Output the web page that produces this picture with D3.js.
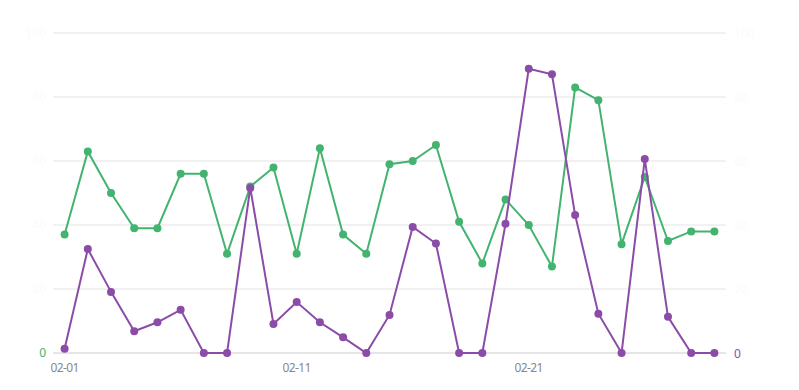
<!DOCTYPE html>
<html><head><meta charset="utf-8">
<script src="https://cdn.jsdelivr.net/npm/d3@7"></script>
<style>body{margin:0;background:#fff}svg{display:block}text{font-family:"Noto Sans",sans-serif}</style>
</head><body><svg id="c" width="799" height="390"></svg>
<script>
const categories = ["02-01","02-02","02-03","02-04","02-05","02-06","02-07","02-08","02-09","02-10","02-11","02-12","02-13","02-14","02-15","02-16","02-17","02-18","02-19","02-20","02-21","02-22","02-23","02-24","02-25","02-26","02-27","02-28","02-29"];
const greenValues = [37,63,50,39,39,56,56,31,52,58,31,64,37,31,59,60,65,41,28,48,40,27,83,79,34,55,35,38,38];
const purpleValues = [1.3,32.5,19.1,6.8,9.6,13.5,0,0,51.6,9.1,15.9,9.6,4.9,0,11.9,39.4,34.2,0,0,40.4,88.8,87.1,43.1,12.3,0,60.6,11.3,0,0];
const leftTicks = [0,20,40,60,80,100];
const rightTicks = [0,20,40,60,80,100];
const xTickLabels = ["02-01","02-11","02-21"];

const svg = d3.select("#c");
const L = 53, R = 726, T = 33, B = 353;
const green = "#43b370", purple = "#8b4ca8";
const x = d3.scaleBand().domain(categories).range([L, R]);
const cx = d => x(d) + x.bandwidth()/2;
const yL = d3.scaleLinear().domain([0,100]).range([B, T]);
const yR = d3.scaleLinear().domain([0,100]).range([B, T]);

svg.append("g").selectAll("line").data(leftTicks.filter(t=>t>0)).join("line")
  .attr("x1", L).attr("x2", R).attr("y1", d=>yL(d)).attr("y2", d=>yL(d))
  .attr("stroke", "#e3e3e3").attr("stroke-width", 1);
svg.append("line").attr("x1", L).attr("x2", R).attr("y1", B).attr("y2", B)
  .attr("stroke", "#cccccc").attr("stroke-width", 1);

svg.append("g").selectAll("text").data(leftTicks).join("text")
  .attr("x", 46).attr("y", d=>yL(d)+4).attr("text-anchor","end")
  .attr("font-size", 12).attr("fill", d => d===0 ? green : "#fbfbfb").text(d=>d);
svg.append("g").selectAll("text").data(rightTicks).join("text")
  .attr("x", 734).attr("y", d=>yR(d)+5).attr("text-anchor","start")
  .attr("font-size", 12).attr("fill", d => d===0 ? purple : "#fbfbfb").text(d=>d);

svg.append("g").selectAll("text").data(xTickLabels).join("text")
  .attr("x", d=>cx(d)).attr("y", 372).attr("text-anchor","middle")
  .attr("font-size", 12).attr("fill", "#888888").attr("letter-spacing", -0.6).text(d=>d);

function series(vals, y, color){
  const data = vals.map((v,i)=>({c:categories[i], v}));
  svg.append("path").datum(data)
    .attr("d", d3.line().x(d=>cx(d.c)).y(d=>y(d.v)))
    .attr("fill","none").attr("stroke", color).attr("stroke-width", 2);
  svg.append("g").selectAll("circle").data(data).join("circle")
    .attr("cx", d=>cx(d.c)).attr("cy", d=>y(d.v)).attr("r", 4).attr("fill", color);
}
series(greenValues, yL, green);
series(purpleValues, yR, purple);
</script></body></html>
